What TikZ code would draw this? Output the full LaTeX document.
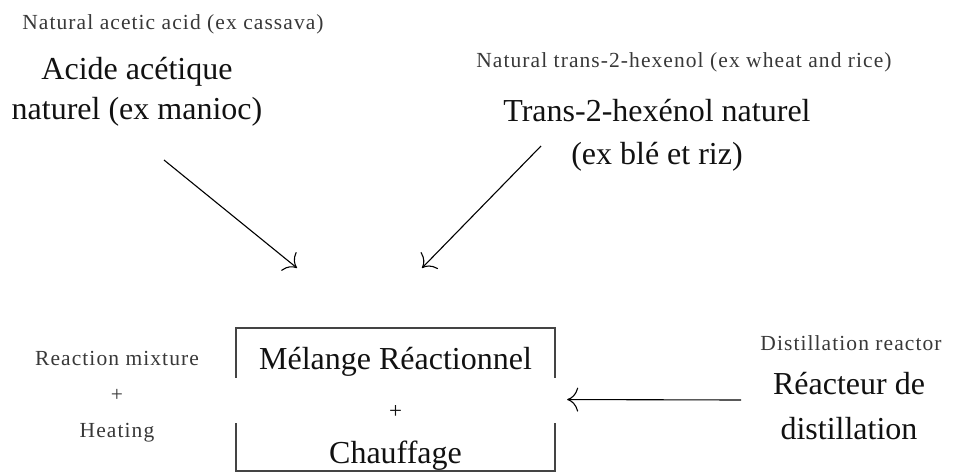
\documentclass[tikz,border=0pt]{standalone}
\usepackage{fontspec}
\setmainfont{Liberation Serif}
\newfontfamily\spacedfont[LetterSpace=5]{Liberation Serif}
\usetikzlibrary{positioning,arrows.meta}
\definecolor{cText}{HTML}{111111}
\definecolor{cNote}{HTML}{383838}
\definecolor{cFrame}{HTML}{444444}
\tikzset{
  big/.style={align=center, inner sep=0pt, anchor=base, text=cText,
              font=\fontsize{32}{42}\selectfont},
  note/.style={align=center, inner sep=0pt, anchor=base, text=cNote,
               font=\spacedfont\fontsize{21.5}{36}\selectfont},
  framebox/.style={minimum width=319pt, minimum height=143pt, inner sep=0pt},
  frameline/.style={draw=cFrame, line width=2pt},
  ar/.style={-{To[length=11pt,width=24pt]}, line width=1.1pt},
}

\begin{document}
\begin{tikzpicture}[x=1pt, y=-1pt]
    \useasboundingbox (0,0) rectangle (954,475);

    % sources
    \node[note] (acidNote) at (173,29) {Natural acetic acid (ex cassava)};
    \node[big] (acid) at (137,119) {Acide acétique\\[-2pt] naturel (ex manioc)};
    \node[note] (hexNote) at (684,67) {Natural trans-2-hexenol (ex wheat and rice)};
    \node[big] (hex) at (657,164) {Trans-2-hexénol naturel\\[1pt] (ex blé et riz)};

    % reaction
    \node[note] (mixNote) at (117,437) {Reaction mixture\\ {+}\\ Heating};
    \node[framebox] (mix) at (395.5,399.5) {};
    \node[big, yshift=8pt] (mixTxt) at (mix.south)
      {Mélange Réactionnel\\[7pt] {\spacedfont\fontsize{23}{24}\selectfont +}\\[3pt] Chauffage};
    \draw[frameline] ([yshift=-50pt]mix.north west) -- (mix.north west)
      -- (mix.north east) -- ([yshift=-50pt]mix.north east);
    \draw[frameline] ([yshift=48pt]mix.south west) -- (mix.south west)
      -- (mix.south east) -- ([yshift=48pt]mix.south east);

    % reactor
    \node[note] (reacNote) at (851,350) {Distillation reactor};
    \node[big] (reac) at (849,439) {Réacteur de\\[3pt] distillation};

    \coordinate (acidOut) at (164,160);
    \coordinate (acidIn) at (297,268);
    \coordinate (hexOut) at (541,146);
    \coordinate (hexIn) at (422,268);
    \coordinate (reacOut) at (741,400);
    \draw[ar] (acidOut) -- (acidIn);
    \draw[ar] (hexOut) -- (hexIn);
    \draw[ar, shorten >=12pt] (reacOut) -- (mix.east);
\end{tikzpicture}
\end{document}
